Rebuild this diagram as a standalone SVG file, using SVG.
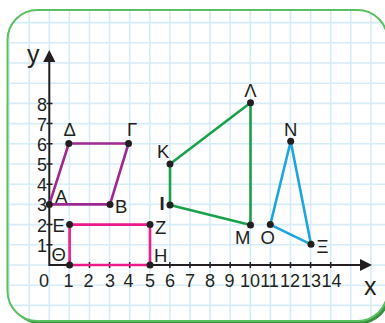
<svg xmlns="http://www.w3.org/2000/svg" width="385" height="323" viewBox="0 0 385 323">
<defs>
<style>
.grid{fill:none;stroke:#d6ecf8;stroke-width:1.6}
.axis{fill:none;stroke:#231f20;stroke-width:2}
.tick{fill:none;stroke:#231f20;stroke-width:1.5}
.num{font-family:"Liberation Sans",Arial,sans-serif;font-size:18px;fill:#231f20}
.lbl{font-family:"Liberation Sans",Arial,sans-serif;font-size:18.5px;fill:#231f20}
.ax{font-family:"Liberation Sans",Arial,sans-serif;font-size:25px;fill:#231f20}
.dot{fill:#231f20}
.edge{fill:none;stroke-width:2.6;stroke-linejoin:round}
</style>
<clipPath id="card"><rect x="7.5" y="10" width="380" height="311" rx="30" ry="30"/></clipPath>
</defs>
<rect x="0" y="0" width="385" height="323" fill="#ffffff"/>
<rect x="10" y="13" width="380" height="311" rx="30" ry="30" fill="#3d8f47"/>
<rect x="7.5" y="10" width="380" height="311" rx="30" ry="30" fill="#ffffff"/>
<g clip-path="url(#card)">
<path class="grid" d="M9.1 0V323M29.2 0V323M69.4 0V323M89.5 0V323M109.6 0V323M129.7 0V323M149.8 0V323M169.9 0V323M190 0V323M210.1 0V323M230.2 0V323M250.3 0V323M270.4 0V323M290.5 0V323M310.6 0V323M330.7 0V323M350.8 0V323M370.9 0V323M0 305.4H385M0 285.2H385M0 244.8H385M0 224.6H385M0 204.4H385M0 184.2H385M0 164H385M0 143.8H385M0 123.6H385M0 103.4H385M0 83.2H385M0 63H385M0 42.8H385M0 22.6H385M0 2.4H385M49.3 0V323M0 265H385"/>
</g>
<rect x="7.5" y="10" width="380" height="311" rx="30" ry="30" fill="none" stroke="#5cbf60" stroke-width="2"/>
<g id="axes">
<path class="axis" d="M49.3 266V58M48.3 265H362"/>
<polygon points="49.3,50 43.2,62 55.4,62" fill="#231f20"/>
<polygon points="372,265 360,259 360,271" fill="#231f20"/>
<path class="tick" d="M69.4 262V268M89.5 262V268M109.6 262V268M129.7 262V268M149.8 262V268M169.9 262V268M190 262V268M210.1 262V268M230.2 262V268M250.3 262V268M270.4 262V268M290.5 262V268M310.6 262V268M330.7 262V268M46.5 244.8H52.5M46.5 224.6H52.5M46.5 204.4H52.5M46.5 184.2H52.5M46.5 164H52.5M46.5 143.8H52.5M46.5 123.6H52.5M46.5 103.4H52.5"/>
<text class="ax" x="27" y="63">y</text>
<text class="ax" x="364" y="295">x</text>
<g class="num" text-anchor="middle">
<text x="44" y="286.5">0</text><text x="68.5" y="286.5">1</text><text x="88.5" y="286.5">2</text><text x="110" y="286.5">3</text><text x="128.5" y="286.5">4</text><text x="150" y="286.5">5</text><text x="170" y="286.5">6</text><text x="190" y="286.5">7</text><text x="210" y="286.5">8</text><text x="229.5" y="286.5">9</text><text x="250" y="286.5">10</text><text x="269.5" y="286.5">11</text><text x="290" y="286.5">12</text><text x="311" y="286.5">13</text><text x="331.5" y="286.5">14</text>
</g>
<g class="num" text-anchor="end">
<text x="47" y="252">1</text><text x="47" y="232">2</text><text x="47" y="211.2">3</text><text x="47" y="191">4</text><text x="47" y="171">5</text><text x="47" y="151">6</text><text x="47" y="130.5">7</text><text x="47" y="110.5">8</text>
</g>
</g>
<g id="connectors">
<polygon class="edge" stroke="#9c2a92" points="49.3,204.4 110,204.4 128.5,143.5 68.8,143.5"/>
<polygon class="edge" stroke="#ec1c8c" points="69.6,224.6 150,224.6 150,265 69.6,265"/>
<polygon class="edge" stroke="#1aa14b" points="170,205 170,164 250.5,102.8 250.5,225"/>
<polygon class="edge" stroke="#1ea5e0" points="270.3,224.6 290.7,141.3 311,244.3"/>
</g>
<g id="node-A"><circle class="dot" cx="49.3" cy="204.4" r="3.5"/><text class="lbl" x="55" y="202.7">Α</text></g>
<g id="node-B"><circle class="dot" cx="110" cy="204.4" r="3.5"/><text class="lbl" x="115" y="213">Β</text></g>
<g id="node-Gamma"><circle class="dot" cx="128.5" cy="143.5" r="3.5"/><text class="lbl" x="127" y="136">Γ</text></g>
<g id="node-Delta"><circle class="dot" cx="68.8" cy="143.5" r="3.5"/><text class="lbl" x="69.7" y="136" text-anchor="middle">Δ</text></g>
<g id="node-E"><circle class="dot" cx="69.6" cy="224.6" r="3.5"/><text class="lbl" x="52.5" y="231.5">Ε</text></g>
<g id="node-Z"><circle class="dot" cx="150" cy="224.6" r="3.5"/><text class="lbl" x="155" y="234">Ζ</text></g>
<g id="node-H"><circle class="dot" cx="150" cy="265" r="3.5"/><text class="lbl" x="154" y="261.5">Η</text></g>
<g id="node-Theta"><circle class="dot" cx="69.6" cy="265" r="3.5"/><text class="lbl" x="51.5" y="260.5">Θ</text></g>
<g id="node-K"><circle class="dot" cx="170" cy="164" r="3.5"/><text class="lbl" x="157" y="158">Κ</text></g>
<g id="node-I"><circle class="dot" cx="170" cy="205" r="3.5"/><text class="lbl" x="159.5" y="209.5" font-weight="bold">Ι</text></g>
<g id="node-Lambda"><circle class="dot" cx="250.5" cy="102.8" r="3.5"/><text class="lbl" x="250.5" y="97" text-anchor="middle">Λ</text></g>
<g id="node-M"><circle class="dot" cx="250.5" cy="225" r="3.5"/><text class="lbl" x="235" y="244.3">Μ</text></g>
<g id="node-O"><circle class="dot" cx="270.3" cy="224.6" r="3.5"/><text class="lbl" x="260.5" y="244.3">Ο</text></g>
<g id="node-N"><circle class="dot" cx="290.7" cy="141.3" r="3.5"/><text class="lbl" x="284" y="136">Ν</text></g>
<g id="node-Xi"><circle class="dot" cx="311" cy="244.3" r="3.5"/><text class="lbl" x="316.5" y="253">Ξ</text></g>
</svg>
